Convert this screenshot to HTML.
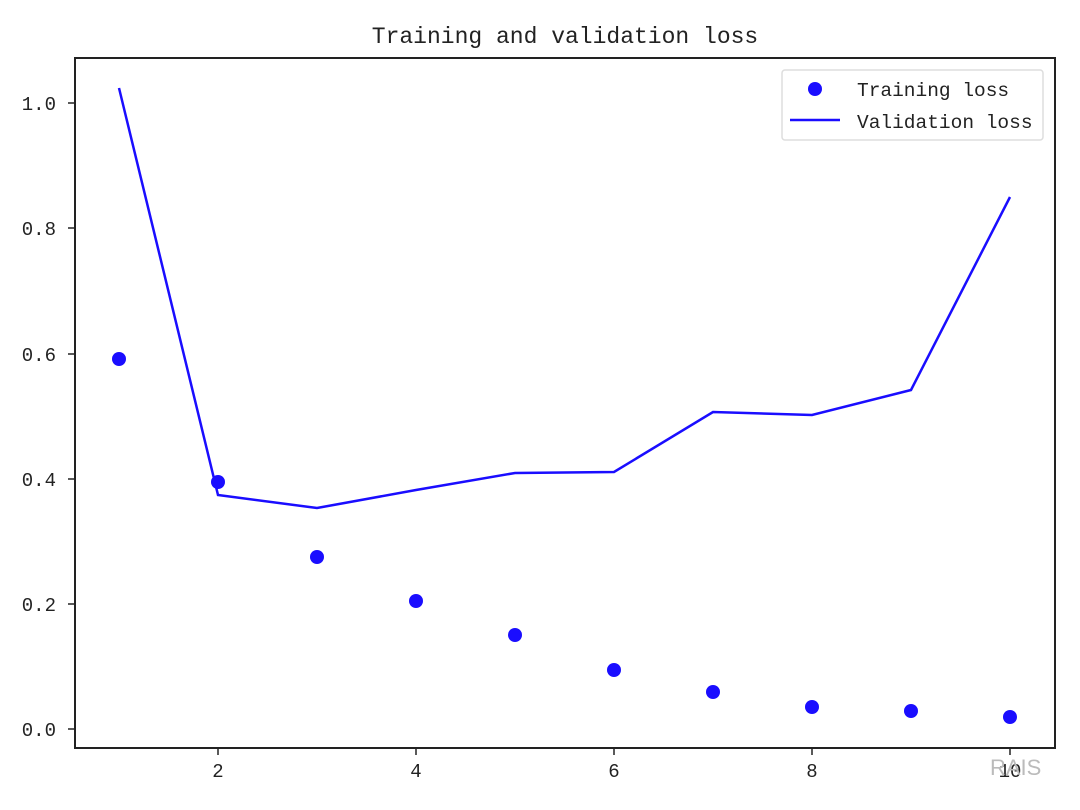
<!DOCTYPE html>
<html><head><style>body{margin:0;background:#fff}svg{display:block}</style></head>
<body>
<svg width="1080" height="810" viewBox="0 0 1080 810" xmlns="http://www.w3.org/2000/svg" font-family="Liberation Mono, monospace" fill="#222">
<rect x="0" y="0" width="1080" height="810" fill="#fff"/>
<text x="565" y="43" font-size="23" text-anchor="middle" fill="#222">Training and validation loss</text>
<rect x="75" y="58" width="980" height="690" fill="none" stroke="#222" stroke-width="2"/>
<g stroke="#222" stroke-width="1.5">
<line x1="68" y1="103" x2="75" y2="103"/><line x1="68" y1="228" x2="75" y2="228"/><line x1="68" y1="354" x2="75" y2="354"/><line x1="68" y1="479" x2="75" y2="479"/><line x1="68" y1="604" x2="75" y2="604"/><line x1="68" y1="729" x2="75" y2="729"/>
<line x1="218" y1="748" x2="218" y2="755"/><line x1="416" y1="748" x2="416" y2="755"/><line x1="614" y1="748" x2="614" y2="755"/><line x1="812" y1="748" x2="812" y2="755"/><line x1="1010" y1="748" x2="1010" y2="755"/>
</g>
<g font-size="19" text-anchor="end">
<text x="56" y="110">1.0</text><text x="56" y="235">0.8</text><text x="56" y="361">0.6</text><text x="56" y="486">0.4</text><text x="56" y="611">0.2</text><text x="56" y="736">0.0</text>
</g>
<g font-size="19" text-anchor="middle">
<text x="218" y="777">2</text><text x="416" y="777">4</text><text x="614" y="777">6</text><text x="812" y="777">8</text><text x="1010" y="777">10</text>
</g>
<polyline fill="none" stroke="#1a0dff" stroke-width="2.5" points="119,88 218,495 317,508 416,490 515,473 614,472 713,412 812,415 911,390 1010,197"/>
<g fill="#1a0dff">
<circle cx="119" cy="359" r="7"/><circle cx="218" cy="482" r="7"/><circle cx="317" cy="557" r="7"/><circle cx="416" cy="601" r="7"/><circle cx="515" cy="635" r="7"/><circle cx="614" cy="670" r="7"/><circle cx="713" cy="692" r="7"/><circle cx="812" cy="707" r="7"/><circle cx="911" cy="711" r="7"/><circle cx="1010" cy="717" r="7"/>
</g>
<rect x="782" y="70" width="261" height="70" rx="3" fill="#fff" stroke="#ddd" stroke-width="1.5"/>
<circle cx="815" cy="89" r="7" fill="#1a0dff"/>
<line x1="790" y1="120" x2="840" y2="120" stroke="#1a0dff" stroke-width="2.5"/>
<g font-size="19.5">
<text x="857" y="96">Training loss</text>
<text x="857" y="128">Validation loss</text>
</g>
<text x="990" y="775" font-family="Liberation Sans, sans-serif" font-size="22" fill="#bbb">RAIS</text>
</svg>
</body></html>
